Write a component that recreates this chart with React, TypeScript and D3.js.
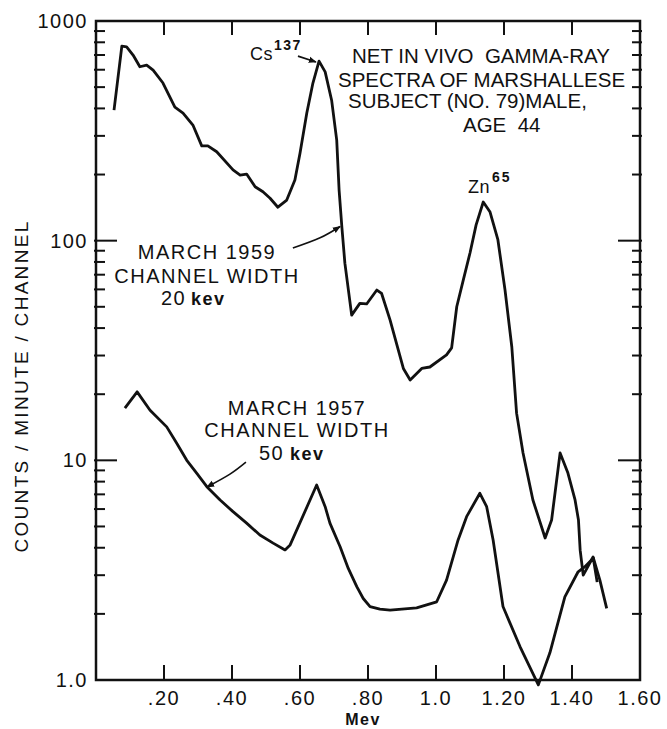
import React, { useEffect, useRef } from "react";
import * as d3 from "d3";

// energy (MeV) and counts
const mev1959 = [0.053, 0.076, 0.090, 0.109, 0.129, 0.149, 0.168, 0.197, 0.232, 0.256, 0.285, 0.311, 0.329, 0.355, 0.403, 0.424, 0.443, 0.468, 0.491, 0.512, 0.535, 0.561, 0.585, 0.600, 0.620, 0.638, 0.656, 0.674, 0.693, 0.708, 0.715, 0.723, 0.732, 0.752, 0.776, 0.796, 0.826, 0.840, 0.865, 0.904, 0.924, 0.958, 0.982, 1.031, 1.046, 1.061, 1.080, 1.100, 1.118, 1.139, 1.159, 1.182, 1.203, 1.223, 1.237, 1.256, 1.285, 1.321, 1.340, 1.365, 1.388, 1.409, 1.419, 1.424, 1.433, 1.462, 1.474];
const counts1959 = [393, 769, 763, 700, 619, 630, 598, 522, 405, 381, 336, 270, 270, 254, 210, 199, 201, 176, 167, 156, 142, 153, 189, 250, 381, 522, 657, 587, 436, 287, 170, 116, 79, 45.8, 51.8, 51.5, 59.6, 57.5, 43.5, 26.2, 23.2, 26.2, 26.6, 30.2, 32.5, 50, 66, 87.9, 118, 150, 135, 101, 59.6, 32.8, 16.4, 10.8, 6.6, 4.43, 5.35, 10.8, 8.75, 6.6, 5.35, 3.9, 3.0, 3.63, 2.79];

const mev1957 = [0.085, 0.121, 0.159, 0.208, 0.237, 0.267, 0.296, 0.326, 0.365, 0.403, 0.443, 0.482, 0.521, 0.556, 0.571, 0.649, 0.674, 0.688, 0.718, 0.742, 0.767, 0.786, 0.806, 0.835, 0.865, 0.943, 1.002, 1.031, 1.065, 1.090, 1.129, 1.149, 1.168, 1.197, 1.247, 1.301, 1.335, 1.379, 1.418, 1.438, 1.463, 1.482, 1.502];
const counts1957 = [17.3, 20.5, 16.9, 14.2, 12.0, 10.0, 8.75, 7.59, 6.6, 5.84, 5.18, 4.57, 4.20, 3.91, 4.12, 7.72, 6.15, 5.18, 4.04, 3.22, 2.66, 2.35, 2.16, 2.10, 2.08, 2.13, 2.27, 2.85, 4.34, 5.54, 7.08, 6.15, 4.34, 2.16, 1.42, 0.95, 1.33, 2.39, 3.11, 3.28, 3.59, 2.85, 2.12];

const xTickValues = [0.2, 0.4, 0.6, 0.8, 1.0, 1.2, 1.4, 1.6];
const xTickLabels = [".20", ".40", ".60", ".80", "1.0", "1.20", "1.40", "1.60"];
const yTickValues = [1, 10, 100, 1000];
const yTickLabels = ["1.0", "10", "100", "1000"];

const titleLines = ["NET IN VIVO  GAMMA-RAY", "SPECTRA OF MARSHALLESE", "SUBJECT (NO. 79)MALE,", "AGE  44"];

// arrow paths in data units [mev, counts]
const arrowCs = [[0.594, 692], [0.647, 650]];
const arrow1959 = [[0.579, 92.5], [0.659, 103], [0.718, 116]];
const arrow1957 = [[0.441, 9.82], [0.394, 8.66], [0.326, 7.56]];

const FONT = "'Liberation Sans', Arial, sans-serif";
const INK = "#111";

const App = () => {
    const svgRef = useRef<SVGSVGElement>(null);

    useEffect(() => {
        const width = 667;
        const height = 729;
        const margin = { top: 21, right: 27, bottom: 49, left: 96 };

        const svg = d3.select(svgRef.current);
        svg.selectAll("*").remove();
        svg.attr("width", width).attr("height", height);

        const x = d3.scaleLinear().domain([0, 1.6]).range([margin.left, width - margin.right]);
        const y = d3.scaleLog().domain([1, 1000]).range([height - margin.bottom, margin.top]);
        const x0 = x(0), x1 = x(1.6), y0 = y(1), y1 = y(1000);

        svg.append("defs")
            .append("marker")
            .attr("id", "head")
            .attr("viewBox", "0 0 10 10")
            .attr("refX", 9)
            .attr("refY", 5)
            .attr("markerWidth", 8)
            .attr("markerHeight", 8)
            .attr("markerUnits", "userSpaceOnUse")
            .attr("orient", "auto")
            .append("path")
            .attr("d", "M0,1 L10,5 L0,9 Z")
            .attr("fill", INK);

        // frame
        svg.append("rect")
            .attr("x", x0).attr("y", y1)
            .attr("width", x1 - x0).attr("height", y0 - y1)
            .attr("fill", "none").attr("stroke", INK).attr("stroke-width", 2.5);

        // x ticks, inward top and bottom
        const innerX = xTickValues.filter((v) => v < 1.6);
        svg.append("g").selectAll("line").data(innerX).join("line")
            .attr("x1", (d) => x(d)).attr("x2", (d) => x(d))
            .attr("y1", y0).attr("y2", y0 - 15)
            .attr("stroke", INK).attr("stroke-width", 2);
        svg.append("g").selectAll("line").data(innerX).join("line")
            .attr("x1", (d) => x(d)).attr("x2", (d) => x(d))
            .attr("y1", y1).attr("y2", y1 + 14)
            .attr("stroke", INK).attr("stroke-width", 2);

        // y ticks, log minor + decades
        const yt = y.ticks().filter((v) => v > 1 && v < 1000);
        const isMajor = (v: number) => Math.abs(Math.log10(v) - Math.round(Math.log10(v))) < 1e-9;
        svg.append("g").selectAll("line").data(yt).join("line")
            .attr("x1", x0 - 2).attr("x2", (d) => x0 + (isMajor(d) ? 21 : 9))
            .attr("y1", (d) => y(d)).attr("y2", (d) => y(d))
            .attr("stroke", INK).attr("stroke-width", 2);
        svg.append("g").selectAll("line").data(yt).join("line")
            .attr("x1", x1 + 2).attr("x2", (d) => x1 - (isMajor(d) ? 22 : 8))
            .attr("y1", (d) => y(d)).attr("y2", (d) => y(d))
            .attr("stroke", INK).attr("stroke-width", 2);

        // tick labels
        svg.append("g").selectAll("text").data(xTickValues).join("text")
            .attr("x", (d) => x(d)).attr("y", y0 + 25)
            .attr("text-anchor", "middle")
            .style("font-family", FONT).style("font-size", "20px").style("letter-spacing", "1.5px")
            .attr("fill", INK)
            .text((d, i) => xTickLabels[i]);
        svg.append("g").selectAll("text").data(yTickValues).join("text")
            .attr("x", x0 - 8).attr("y", (d) => y(d) + 7)
            .attr("text-anchor", "end")
            .style("font-family", FONT).style("font-size", "20px").style("letter-spacing", "1.5px")
            .attr("fill", INK)
            .text((d, i) => yTickLabels[i]);

        svg.append("text")
            .attr("x", 363).attr("y", 725)
            .attr("text-anchor", "middle")
            .style("font-family", FONT).style("font-size", "16px").style("font-weight", "bold")
            .style("letter-spacing", "1.5px")
            .attr("fill", INK)
            .text("Mev");

        svg.append("text")
            .attr("transform", "translate(28,386) rotate(-90)")
            .attr("text-anchor", "middle")
            .style("font-family", FONT).style("font-size", "19px").style("letter-spacing", "2.3px")
            .attr("fill", INK)
            .text("COUNTS / MINUTE / CHANNEL");

        // spectra
        const line1959 = d3.line<number>()
            .x((d, i) => x(mev1959[i]))
            .y((d) => y(d));
        svg.append("path")
            .attr("d", line1959(counts1959))
            .attr("fill", "none").attr("stroke", INK)
            .attr("stroke-width", 2.8).attr("stroke-linejoin", "round");

        const line1957 = d3.line<number>()
            .x((d, i) => x(mev1957[i]))
            .y((d) => y(d));
        svg.append("path")
            .attr("d", line1957(counts1957))
            .attr("fill", "none").attr("stroke", INK)
            .attr("stroke-width", 2.8).attr("stroke-linejoin", "round");

        // arrows
        const arrowLine = d3.line<number[]>()
            .x((d) => x(d[0]))
            .y((d) => y(d[1]))
            .curve(d3.curveNatural);
        [arrowCs, arrow1959, arrow1957].forEach((a) => {
            svg.append("path")
                .attr("d", arrowLine(a))
                .attr("fill", "none").attr("stroke", INK)
                .attr("stroke-width", 1.6)
                .attr("marker-end", "url(#head)");
        });

        const label = (tx: number, ty: number, str: string, size = 20, anchor = "middle", spacing = 1.5) =>
            svg.append("text")
                .attr("x", tx).attr("y", ty)
                .attr("text-anchor", anchor)
                .style("font-family", FONT).style("font-size", `${size}px`)
                .style("letter-spacing", `${spacing}px`)
                .style("white-space", "pre")
                .attr("fill", INK)
                .text(str);

        // title block
        const titleX = [352, 338, 348, 463];
        const titleY = [63, 87, 108, 132];
        titleLines.forEach((t, i) => label(titleX[i], titleY[i], t, 20.5, "start", 0));

        // isotope labels
        label(250, 60, "Cs", 18, "start", 0.5);
        label(274, 50, "137", 14, "start", 1.5).style("font-weight", "bold");
        label(468, 193, "Zn", 18, "start", 0.5);
        label(492, 182, "65", 14, "start", 2).style("font-weight", "bold");

        // series notes
        label(207, 259, "MARCH 1959");
        label(207, 283, "CHANNEL WIDTH");
        label(161, 305, "20", 20, "start", 1.5);
        label(191, 305, "kev", 18, "start", 1.5).style("font-weight", "bold");

        label(297, 415, "MARCH 1957");
        label(297, 437, "CHANNEL WIDTH");
        label(259, 460, "50", 20, "start", 1.5);
        label(290, 460, "kev", 18, "start", 1.5).style("font-weight", "bold");
    }, []);

    return (
        <svg
            ref={svgRef}
            style={{ position: "absolute", left: 0, top: 0, background: "#fff" }}
        ></svg>
    );
};

export default App;
